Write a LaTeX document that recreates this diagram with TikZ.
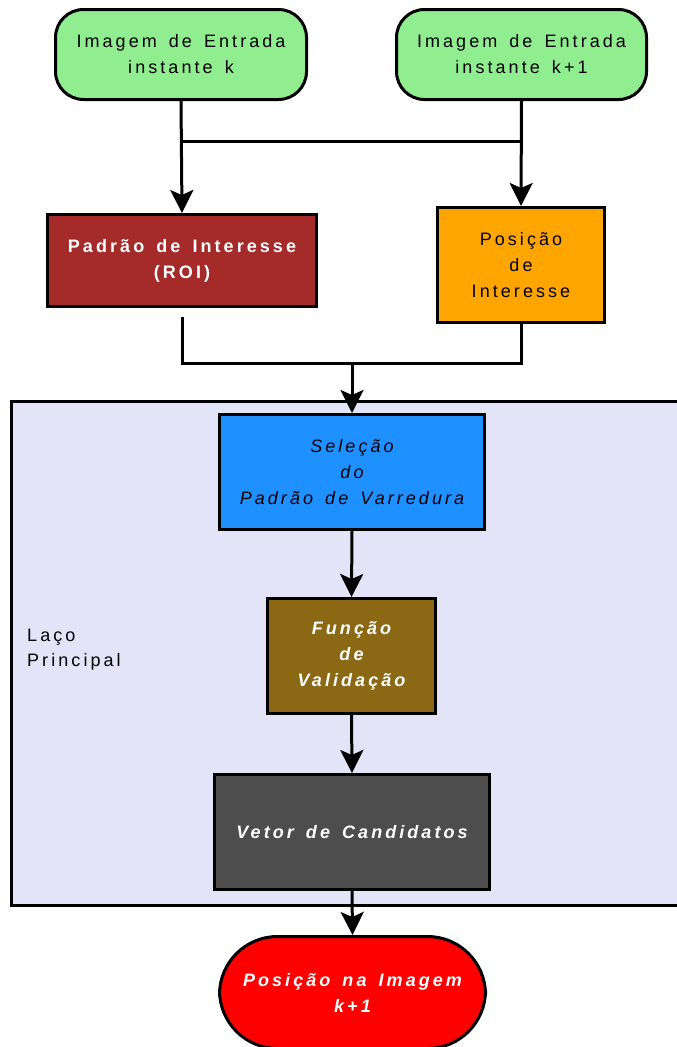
\documentclass[tikz,border=0pt]{standalone}
\usepackage{fontspec}
\setmainfont{Liberation Sans}[LetterSpace=17,WordSpace=1.5]
\usetikzlibrary{arrows.meta}
\definecolor{cgreen}{HTML}{90EE90}
\definecolor{cbrownred}{HTML}{A52A2A}
\definecolor{corange}{HTML}{FFA500}
\definecolor{clavender}{HTML}{E4E4F8}
\definecolor{cblue}{HTML}{1E90FF}
\definecolor{cgold}{HTML}{8B6914}
\definecolor{cdark}{HTML}{4D4D4D}
\definecolor{cred}{HTML}{FF0000}
\begin{document}
\begin{tikzpicture}[x=1pt,y=-1pt,
  box/.style={draw=black, line width=3pt, inner sep=0pt, align=center, anchor=north west,
    font=\fontsize{18}{26}\selectfont},
  conn/.style={line width=3pt},
  arr/.style={conn, -{Stealth[length=23pt,width=23pt,inset=5pt]}}]
\useasboundingbox (0,0) rectangle (677,1047);
\clip (0,0) rectangle (677,1047);
% container
\draw[fill=clavender, line width=3pt] (11,401) rectangle (700,905);
\node[anchor=west, align=left, inner sep=0pt, font=\fontsize{18}{25}\selectfont] (lbl) at (27,650) {Laço\\Principal};
% nodes
\node[box, fill=cgreen, rounded corners=28pt, minimum width=251pt, minimum height=90pt] (in1) at (54,8) {Imagem de Entrada\\instante k};
\node[box, fill=cgreen, rounded corners=28pt, minimum width=250pt, minimum height=90pt] (in2) at (395,8) {Imagem de Entrada\\instante k+1};
\node[box, fill=cbrownred, text=white, minimum width=269pt, minimum height=92pt, font=\fontsize{18}{26}\selectfont\bfseries] (roi) at (46,213) {Padrão de Interesse\\(ROI)};
\node[box, fill=corange, minimum width=167pt, minimum height=115pt] (pos) at (436,206) {Posição\\de\\Interesse};
\node[box, fill=cblue, minimum width=265pt, minimum height=115pt, font=\fontsize{18}{26}\selectfont\itshape] (sel) at (218,413) {Seleção\\do\\Padrão de Varredura};
\node[box, fill=cgold, text=white, minimum width=168pt, minimum height=115pt, font=\fontsize{18}{26}\selectfont\bfseries\itshape] (fv) at (266,597) {Função\\de\\Validação};
\node[box, fill=cdark, text=white, minimum width=275pt, minimum height=115pt, font=\fontsize{18}{26}\selectfont\bfseries\itshape] (vc) at (213,773) {Vetor de Candidatos};
\node[box, fill=cred, text=white, rounded corners=58pt, minimum width=266pt, minimum height=112pt, font=\fontsize{18}{26}\selectfont\bfseries\itshape] (out) at (218,935) {Posição na Imagem\\k+1};
% connectors
\coordinate (j1) at (in1.south |- 0,141);
\coordinate (j2) at (in2.south |- 0,141);
\draw[arr] (in1.south) -- (roi.north);
\draw[arr] (in2.south) -- (pos.north);
\draw[conn] (j1) -- (j2);
\coordinate (r1) at ([yshift=-9pt]roi.south);
\coordinate (m1) at (roi.south |- 0,363);
\coordinate (m2) at (pos.south |- 0,363);
\coordinate (mc) at (sel.north |- 0,363);
\draw[conn] (r1) -- (m1) -- (m2) -- (pos.south);
\draw[arr] (mc) -- (sel.north);
\draw[arr] (sel.south) -- (fv.north);
\draw[arr] (fv.south) -- (vc.north);
\draw[arr] (vc.south) -- (out.north);
\end{tikzpicture}
\end{document}
